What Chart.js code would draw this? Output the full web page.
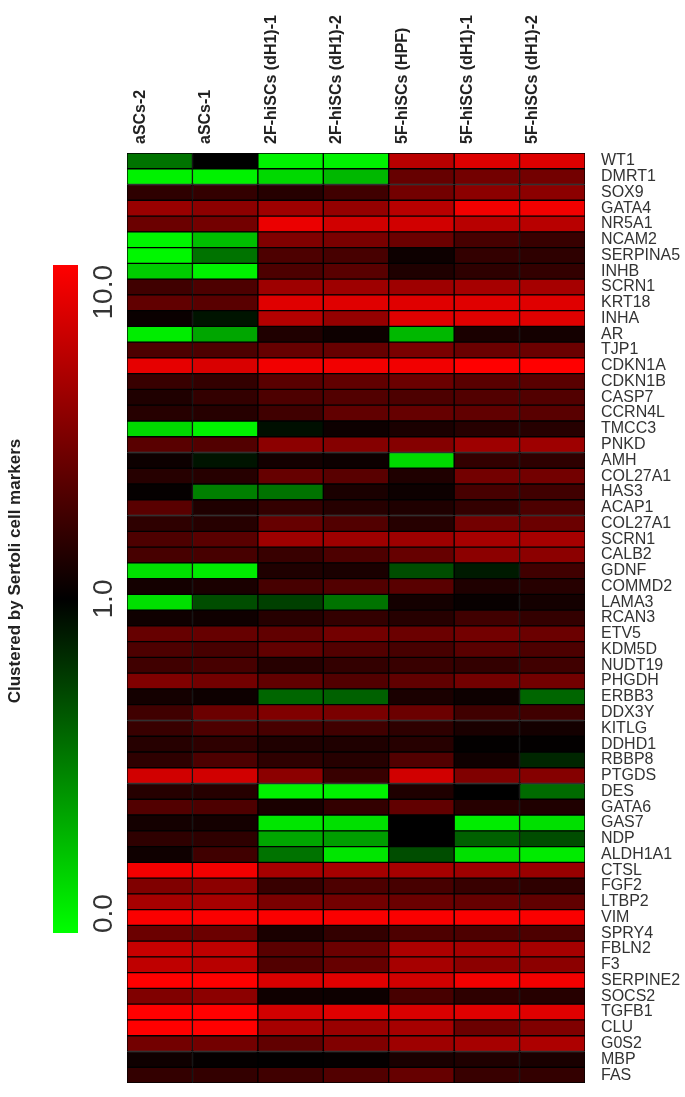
<!DOCTYPE html>
<html>
<head>
<meta charset="utf-8">
<script src="https://cdn.jsdelivr.net/npm/chart.js@4.4.1/dist/chart.umd.min.js"></script>
<style>
  html, body { margin: 0; padding: 0; background: #fff; }
  #wrap { width: 685px; height: 1097px; position: relative; }
</style>
</head>
<body>
<div id="wrap"><canvas id="heat"></canvas></div>
<script>
// samples (columns)
const samples = ["aSCs-2", "aSCs-1", "2F-hiSCs (dH1)-1", "2F-hiSCs (dH1)-2",
  "5F-hiSCs (HPF)", "5F-hiSCs (dH1)-1", "5F-hiSCs (dH1)-2"];

// genes (rows, top to bottom)
const genes = ["WT1", "DMRT1", "SOX9", "GATA4", "NR5A1", "NCAM2", "SERPINA5", "INHB",
  "SCRN1", "KRT18", "INHA", "AR", "TJP1", "CDKN1A", "CDKN1B", "CASP7", "CCRN4L",
  "TMCC3", "PNKD", "AMH", "COL27A1", "HAS3", "ACAP1", "COL27A1", "SCRN1", "CALB2",
  "GDNF", "COMMD2", "LAMA3", "RCAN3", "ETV5", "KDM5D", "NUDT19", "PHGDH", "ERBB3",
  "DDX3Y", "KITLG", "DDHD1", "RBBP8", "PTGDS", "DES", "GATA6", "GAS7", "NDP",
  "ALDH1A1", "CTSL", "FGF2", "LTBP2", "VIM", "SPRY4", "FBLN2", "F3", "SERPINE2",
  "SOCS2", "TGFB1", "CLU", "G0S2", "MBP", "FAS"];

// colour-scale position per cell: -1 = 0.0 (green), 0 = 1.0 (black), 1 = 10.0 (red)
// one array per sample column, in gene order
const aSCs2 = [-0.45, -0.95, 0.18, 0.6, 0.42, -0.97, -0.97, -0.8, 0.25, 0.38,
  0.04, -0.93, 0.3, 0.9, 0.22, 0.12, 0.15, -0.85, 0.35, 0.05,
  0.15, 0.02, 0.35, 0.18, 0.3, 0.28, -0.88, 0.08, -0.88, 0.06,
  0.4, 0.3, 0.25, 0.5, 0.08, 0.25, 0.22, 0.15, 0.18, 0.82,
  0.15, 0.32, 0.08, 0.18, 0.06, 0.95, 0.5, 0.65, 0.98, 0.42,
  0.78, 0.75, 1.0, 0.5, 1.0, 1.0, 0.45, 0.06, 0.2];
const aSCs1 = [0.0, -0.95, 0.2, 0.55, 0.45, -0.75, -0.45, -0.95, 0.3, 0.35,
  -0.08, -0.65, 0.3, 0.85, 0.2, 0.2, 0.15, -0.95, 0.32, -0.08,
  0.15, -0.5, 0.12, 0.15, 0.35, 0.28, -0.92, 0.1, -0.3, 0.06,
  0.4, 0.28, 0.28, 0.45, 0.05, 0.42, 0.3, 0.18, 0.3, 0.82,
  0.15, 0.3, 0.08, 0.18, 0.25, 0.95, 0.55, 0.65, 0.98, 0.42,
  0.75, 0.72, 1.0, 0.55, 1.0, 1.0, 0.45, 0.02, 0.2];
const twoF1 = [-0.95, -0.85, 0.15, 0.62, 0.92, 0.5, 0.3, 0.3, 0.62, 0.88,
  0.7, 0.12, 0.4, 0.95, 0.35, 0.3, 0.25, -0.06, 0.55, 0.08,
  0.4, -0.45, 0.2, 0.4, 0.62, 0.22, 0.12, 0.28, -0.25, 0.15,
  0.38, 0.38, 0.15, 0.38, -0.4, 0.5, 0.28, 0.12, 0.18, 0.55,
  -0.95, 0.1, -0.9, -0.65, -0.45, 0.65, 0.22, 0.48, 0.98, 0.1,
  0.35, 0.32, 0.85, 0.06, 0.82, 0.65, 0.38, 0.01, 0.25];
const twoF2 = [-0.95, -0.72, 0.25, 0.58, 0.82, 0.48, 0.28, 0.35, 0.62, 0.88,
  0.58, 0.05, 0.4, 0.95, 0.38, 0.32, 0.38, 0.05, 0.52, 0.05,
  0.35, 0.1, 0.15, 0.32, 0.62, 0.3, 0.1, 0.32, -0.45, 0.2,
  0.45, 0.32, 0.2, 0.32, -0.38, 0.48, 0.25, 0.12, 0.15, 0.22,
  -0.95, 0.2, -0.88, -0.62, -0.9, 0.65, 0.3, 0.45, 0.98, 0.2,
  0.42, 0.4, 0.88, 0.05, 0.88, 0.6, 0.5, 0.02, 0.32];
const fiveFHPF = [0.73, 0.4, 0.45, 0.72, 0.82, 0.42, 0.05, 0.12, 0.62, 0.88,
  0.88, -0.72, 0.48, 0.95, 0.42, 0.3, 0.4, 0.1, 0.52, -0.85,
  0.12, 0.05, 0.12, 0.15, 0.62, 0.4, -0.3, 0.35, 0.08, 0.15,
  0.42, 0.28, 0.22, 0.38, 0.1, 0.42, 0.18, 0.15, 0.32, 0.82,
  0.12, 0.38, 0.0, 0.0, -0.3, 0.65, 0.28, 0.42, 0.98, 0.3,
  0.68, 0.65, 0.82, 0.28, 0.85, 0.65, 0.62, 0.1, 0.4];
const fiveF1 = [0.87, 0.45, 0.55, 0.95, 0.72, 0.28, 0.2, 0.18, 0.65, 0.88,
  0.88, 0.1, 0.42, 1.0, 0.35, 0.32, 0.38, 0.15, 0.62, 0.2,
  0.45, 0.28, 0.2, 0.45, 0.65, 0.55, -0.1, 0.12, 0.03, 0.25,
  0.45, 0.35, 0.2, 0.45, 0.05, 0.25, 0.1, 0.01, 0.06, 0.5,
  0.0, 0.15, -0.93, -0.38, -0.88, 0.62, 0.22, 0.4, 0.98, 0.3,
  0.65, 0.55, 0.95, 0.18, 0.88, 0.42, 0.65, 0.12, 0.22];
const fiveF2 = [0.87, 0.45, 0.55, 0.95, 0.72, 0.22, 0.18, 0.2, 0.65, 0.88,
  0.88, 0.08, 0.42, 1.0, 0.35, 0.32, 0.35, 0.15, 0.62, 0.18,
  0.45, 0.25, 0.3, 0.42, 0.65, 0.55, 0.25, 0.15, 0.08, 0.2,
  0.42, 0.3, 0.25, 0.45, -0.4, 0.25, 0.08, 0.01, -0.15, 0.52,
  -0.42, 0.12, -0.88, -0.3, -0.92, 0.6, 0.18, 0.38, 0.98, 0.3,
  0.65, 0.55, 0.95, 0.15, 0.88, 0.5, 0.68, 0.1, 0.2];

const columns = [aSCs2, aSCs1, twoF1, twoF2, fiveFHPF, fiveF1, fiveF2];

// colour-bar tick labels, top to bottom
const barLabels = ["10.0", "1.0", "0.0"];

function cellColor(t) {
  if (t >= 0) return `rgb(${Math.round(Math.min(t, 1) * 255)},0,0)`;
  return `rgb(0,${Math.round(Math.min(-t, 1) * 255)},0)`;
}

/* colour key + rotated title on the left */
const legendPlugin = {
  id: 'colorKey',
  beforeDraw(chart) {
    const ctx = chart.ctx;
    const x0 = 53, w = 25, top = 265, bottom = 933;
    ctx.save();
    const g = ctx.createLinearGradient(0, top, 0, bottom);
    g.addColorStop(0, '#ff0000');
    g.addColorStop(0.5, '#000000');
    g.addColorStop(1, '#00ff00');
    ctx.fillStyle = g;
    ctx.fillRect(x0, top, w, bottom - top);

    ctx.fillStyle = '#333';
    ctx.font = '28px Arial, "Liberation Sans", sans-serif';
    ctx.textBaseline = 'middle';
    const lx = 104;
    // 10.0 ends at the top of the bar
    ctx.save(); ctx.translate(lx, top); ctx.rotate(-Math.PI / 2);
    ctx.textAlign = 'right'; ctx.fillText(barLabels[0], 0, 0); ctx.restore();
    ctx.save(); ctx.translate(lx, (top + bottom) / 2); ctx.rotate(-Math.PI / 2);
    ctx.textAlign = 'center'; ctx.fillText(barLabels[1], 0, 0); ctx.restore();
    ctx.save(); ctx.translate(lx, bottom); ctx.rotate(-Math.PI / 2);
    ctx.textAlign = 'left'; ctx.fillText(barLabels[2], 0, 0); ctx.restore();

    ctx.save(); ctx.translate(15, 571); ctx.rotate(-Math.PI / 2);
    ctx.font = 'bold 17px Arial, "Liberation Sans", sans-serif';
    ctx.textAlign = 'center';
    ctx.fillStyle = '#222';
    ctx.fillText('Clustered by Sertoli cell markers', 0, 0);
    ctx.restore();
    ctx.restore();
  }
};

const datasets = columns.map((vals, j) => ({
  label: samples[j],
  data: vals.map(() => [j, j + 1]),
  backgroundColor: vals.map(cellColor),
  borderColor: '#000',
  borderWidth: 1,
  borderSkipped: false,
  barPercentage: 1,
  categoryPercentage: 1,
  grouped: false
}));

new Chart(document.getElementById('heat'), {
  type: 'bar',
  data: { labels: genes, datasets },
  plugins: [legendPlugin],
  options: {
    indexAxis: 'y',
    responsive: true,
    maintainAspectRatio: false,
    animation: false,
    layout: { padding: { left: 127, right: 0, top: 0, bottom: 14 } },
    plugins: { legend: { display: false }, tooltip: { enabled: false } },
    scales: {
      x: { type: 'linear', min: 0, max: samples.length, display: false },
      x2: {
        type: 'category',
        labels: samples,
        position: 'top',
        offset: true,
        grid: { display: false, drawTicks: false },
        border: { display: false },
        ticks: {
          minRotation: 90, maxRotation: 90, autoSkip: false, padding: 9,
          color: '#222',
          font: { family: 'Arial, "Liberation Sans", sans-serif', size: 16, weight: 'bold' }
        },
        afterFit(scale) {
          scale.height = 153;
          scale.paddingLeft = 0; scale.paddingRight = 0;
        }
      },
      y: {
        type: 'category',
        position: 'right',
        offset: true,
        grid: { display: false, drawTicks: false },
        border: { display: false },
        ticks: {
          autoSkip: false, padding: 16,
          color: '#333',
          font: { family: 'Arial, "Liberation Sans", sans-serif', size: 16 }
        },
        afterFit(scale) {
          scale.width = 100;
          scale.paddingTop = 0; scale.paddingBottom = 0;
        }
      }
    }
  }
});
</script>
</body>
</html>
